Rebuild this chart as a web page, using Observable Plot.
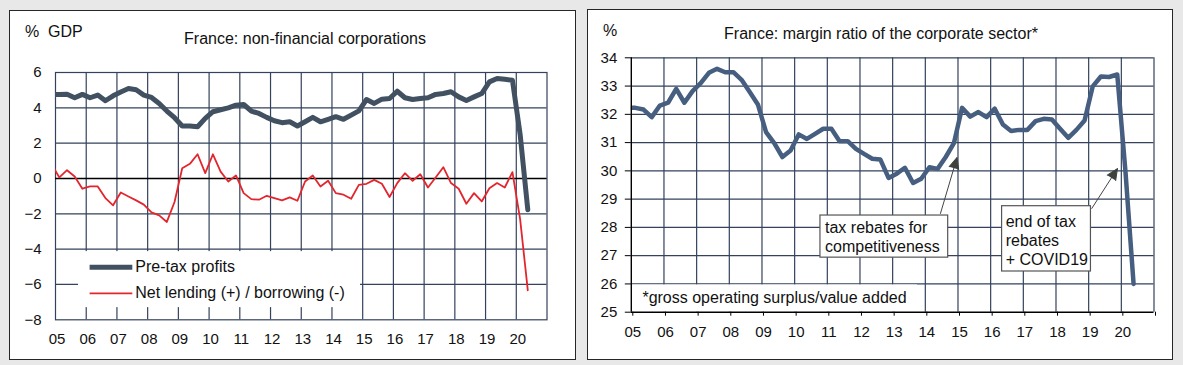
<!DOCTYPE html>
<html>
<head>
<meta charset="utf-8">
<script src="https://cdn.jsdelivr.net/npm/d3@7"></script>
<script src="https://cdn.jsdelivr.net/npm/@observablehq/plot@0.6"></script>
<style>
  html, body { margin: 0; padding: 0; }
  body { width: 1183px; height: 365px; position: relative; overflow: hidden; background: #e8e8e8;
         font-family: "Liberation Sans", Arial, sans-serif; color: #111; }
  .panel { position: absolute; background: #fff; border: 1.5px solid #262626; box-sizing: border-box; }
  .lbl { position: absolute; font-size: 16px; line-height: 18px; white-space: nowrap; color: #111; }
  .chart { position: absolute; top: 0; }
  .chart svg { max-width: none !important; }
</style>
</head>
<body>
<div class="panel" style="left:9px;top:10px;width:567px;height:350px"></div>
<div class="panel" style="left:587px;top:9px;width:586px;height:351px"></div>
<div class="lbl" style="left:25px;top:23px">%&nbsp; GDP</div>
<div class="lbl" style="left:305px;top:30px;transform:translateX(-50%)">France: non-financial corporations</div>
<div class="lbl" style="left:603px;top:22px">%</div>
<div class="lbl" style="left:881px;top:25px;transform:translateX(-50%)">France: margin ratio of the corporate sector*</div>
<div id="left" class="chart" style="left:0px;width:580px;height:365px"></div>
<div id="right" class="chart" style="left:590px;width:593px;height:365px"></div>
<script>
// ---------- DATA (quarterly, 2004Q4 .. 2020Q2) ----------
const firstYear = 2004, firstQuarter = 4;
const quarters = [];
for (let y = firstYear, q = firstQuarter; !(y === 2020 && q === 3); ) {
  quarters.push(y + "Q" + q);
  q++; if (q > 4) { q = 1; y++; }
}

// Pre-tax profits, % GDP
const pretaxProfits = [4.75,
  4.76, 4.77, 4.57, 4.76, 4.57, 4.72, 4.40, 4.68, 4.90, 5.09,
  5.02, 4.72, 4.59, 4.25, 3.82, 3.44, 2.97, 2.97, 2.93, 3.40,
  3.78, 3.89, 4.00, 4.15, 4.19, 3.82, 3.68, 3.46, 3.27, 3.16,
  3.21, 2.97, 3.21, 3.46, 3.21, 3.35, 3.50, 3.35, 3.59, 3.83,
  4.47, 4.25, 4.49, 4.53, 4.94, 4.57, 4.47, 4.53, 4.57, 4.76,
  4.81, 4.91, 4.62, 4.42, 4.62, 4.81, 5.47, 5.66, 5.62, 5.56,
  2.50, -1.77];

// Net lending (+) / borrowing (-), % GDP
const netLending = [0.80,
  0.06, 0.47, 0.11, -0.58, -0.45, -0.45, -1.11, -1.52, -0.79, -1.02,
  -1.24, -1.48, -1.92, -2.09, -2.46, -1.33, 0.58, 0.83, 1.37, 0.30,
  1.37, 0.39, -0.17, 0.17, -0.83, -1.17, -1.20, -0.98, -1.11, -1.24,
  -1.07, -1.26, -0.17, 0.17, -0.45, -0.13, -0.83, -0.92, -1.15, -0.36,
  -0.30, -0.08, -0.30, -1.05, -0.26, 0.30, -0.13, 0.24, -0.51, 0.06,
  0.64, -0.26, -0.58, -1.43, -0.83, -1.30, -0.55, -0.26, -0.51, 0.36,
  -2.30, -6.33];

// Margin ratio of the corporate sector, %
const marginRatio = [32.23,
  32.23, 32.17, 31.90, 32.31, 32.41, 32.90, 32.41, 32.82, 33.10, 33.47,
  33.61, 33.49, 33.49, 33.22, 32.79, 32.35, 31.37, 30.98, 30.49, 30.72,
  31.29, 31.13, 31.31, 31.49, 31.49, 31.05, 31.05, 30.78, 30.60, 30.43,
  30.40, 29.75, 29.90, 30.11, 29.57, 29.72, 30.13, 30.07, 30.49, 30.98,
  32.23, 31.92, 32.08, 31.90, 32.20, 31.64, 31.41, 31.45, 31.45, 31.76,
  31.84, 31.82, 31.49, 31.17, 31.45, 31.78, 32.99, 33.34, 33.32, 33.41,
  30.00, 26.00];

const yearTicks = [2005, 2006, 2007, 2008, 2009, 2010, 2011, 2012, 2013, 2014, 2015, 2016, 2017, 2018, 2019, 2020];
const yearLabels = ["05","06","07","08","09","10","11","12","13","14","15","16","17","18","19","20"];
const leftYTicks = [-8, -6, -4, -2, 0, 2, 4, 6];
const rightYTicks = [25, 26, 27, 28, 29, 30, 31, 32, 33, 34];

const leftTitle = "France: non-financial corporations";
const rightTitle = "France: margin ratio of the corporate sector*";
const seriesNames = ["Pre-tax profits", "Net lending (+) / borrowing (-)"];
const footnote = "*gross operating surplus/value added";
const notes = [
  {text: "tax rebates for\ncompetitiveness", from: [2014.46, 28.48], to: [2014.97, 30.47]},
  {text: "end of tax\nrebates\n+ COVID19", from: [2019.09, 28.66], to: [2019.88, 30.08]}
];

// ---------- styling ----------
const GRID = "#34425d";
const DARK = "#415161";
const RED = "#e3262e";
const BLUE = "#465e80";
const FONT = "'Liberation Sans', Arial, sans-serif";

// mid-quarter time
const tOf = q => +q.slice(0, 4) + (+q.slice(5) - 1) / 4 + 0.125;
const rows = quarters.map((q, i) => ({
  t: tOf(q), profits: pretaxProfits[i], lending: netLending[i], margin: marginRatio[i]
}));
const lbl = d => yearLabels[yearTicks.indexOf(d)] ?? "";

// ---------- LEFT ----------
const legendBox = [{x1: 2005.75, x2: 2014.93, y1: -7.31, y2: -4.14}];
const legendItems = [
  {x1: 2006.11, x2: 2007.50, y: -5.02, name: seriesNames[0], color: DARK, w: 5},
  {x1: 2006.11, x2: 2007.50, y: -6.50, name: seriesNames[1], color: RED, w: 1.8}
];

const left = Plot.plot({
  width: 580, height: 365,
  marginLeft: 55, marginRight: 33.5, marginTop: 72, marginBottom: 45.7,
  style: {fontFamily: FONT, fontSize: "15px", color: "#111", background: "transparent", overflow: "visible"},
  x: {domain: [2005, 2021]},
  y: {domain: [-8, 6]},
  marks: [
    Plot.gridX(yearTicks.slice(1), {stroke: GRID, strokeOpacity: 1, strokeWidth: 1.2}),
    Plot.gridY(leftYTicks.slice(1, -1), {stroke: GRID, strokeOpacity: 1, strokeWidth: 1.2}),
    Plot.frame({stroke: GRID, strokeWidth: 1.2}),
    Plot.ruleY([0], {stroke: "#000", strokeWidth: 1.4}),
    Plot.rect(legendBox, {x1: "x1", x2: "x2", y1: "y1", y2: "y2", fill: "#fff"}),
    Plot.line(rows, {x: "t", y: "lending", stroke: RED, strokeWidth: 1.8, clip: true}),
    Plot.line(rows, {x: "t", y: "profits", stroke: DARK, strokeWidth: 5, clip: true}),
    Plot.link(legendItems, {x1: "x1", x2: "x2", y1: "y", y2: "y", stroke: "color", strokeWidth: "w"}),
    Plot.text(legendItems, {x: "x2", y: "y", text: "name", textAnchor: "start", dx: 3, fontSize: 16, fill: "#111"}),
    Plot.axisY(leftYTicks, {tickSize: 0, tickPadding: 14, label: null, fontSize: 15}),
    Plot.axisX(yearTicks, {tickSize: 0, tickPadding: 14, tickFormat: lbl, label: null, fontSize: 15, dx: 1.5})
  ]
});
document.getElementById("left").append(left);

// ---------- RIGHT ----------
const noteBoxes = [
  {x1: 2010.79, x2: 2014.70, y1: 26.93, y2: 28.42, tx: 2010.93, ty: 27.67, text: notes[0].text},
  {x1: 2016.35, x2: 2019.07, y1: 26.44, y2: 28.75, tx: 2016.46, ty: 27.56, text: notes[1].text}
];
const arrows = notes.map(n => {
  const dx = n.to[0] - n.from[0], dy = n.to[1] - n.from[1];
  return {x1: n.from[0], y1: n.from[1], x2: n.to[0], y2: n.to[1]};
});
const footBox = [{x1: 2005, x2: 2013.76, y1: 25, y2: 26, tx: 2005.34, ty: 25.5, text: footnote}];

const right = Plot.plot({
  width: 593, height: 365,
  marginLeft: 40.8, marginRight: 29.5, marginTop: 57.3, marginBottom: 53.3,
  style: {fontFamily: FONT, fontSize: "15px", color: "#111", background: "transparent", overflow: "visible"},
  x: {domain: [2005, 2021]},
  y: {domain: [25, 34]},
  marks: [
    Plot.gridX([...yearTicks.slice(1), 2021], {stroke: GRID, strokeOpacity: 1, strokeWidth: 1.2}),
    Plot.gridY(rightYTicks.slice(1), {stroke: GRID, strokeOpacity: 1, strokeWidth: 1.2}),
    Plot.rect(footBox, {x1: "x1", x2: "x2", y1: "y1", y2: "y2", fill: "#fff", insetTop: 1}),
    Plot.text(footBox, {x: "tx", y: "ty", text: "text", textAnchor: "start", fontSize: 16, fill: "#111"}),
    Plot.rect(noteBoxes, {x1: "x1", x2: "x2", y1: "y1", y2: "y2", fill: "#fff", stroke: "#555", strokeWidth: 1.2}),
    Plot.text(noteBoxes, {x: "tx", y: "ty", text: "text", textAnchor: "start", lineAnchor: "middle", lineHeight: 1.19, fontSize: 16, fill: "#111"}),
    Plot.line(rows, {x: "t", y: "margin", stroke: BLUE, strokeWidth: 4.5, clip: true}),
    Plot.link(arrows, {x1: "x1", y1: "y1", x2: "x2", y2: "y2", stroke: "#444", strokeWidth: 1}),
    Plot.vector(arrows, {
      x: "x2", y: "y2", anchor: "end", shape: "spike", length: 11, r: 5,
      rotate: d => {
        // angle computed in screen space below via scale factors
        const sx = 32.67, sy = 28.27;
        const dx = (d.x2 - d.x1) * sx, dy = (d.y2 - d.y1) * sy;
        return Math.atan2(dx, dy) * 180 / Math.PI;
      },
      fill: "#3d423d", stroke: "#3d423d", strokeWidth: 1
    }),
    Plot.ruleX([2005], {stroke: "#000", strokeWidth: 1.4}),
    Plot.ruleY([25], {stroke: "#000", strokeWidth: 1.4}),
    Plot.axisY(rightYTicks, {tickSize: 6, tickPadding: 8, label: null, fontSize: 15, stroke: "#000"}),
    Plot.axisX([...yearTicks, 2021], {tickSize: 4, tickPadding: 10, tickFormat: lbl, label: null, fontSize: 15, dx: 1.5, stroke: "#000"})
  ]
});
document.getElementById("right").append(right);
</script>
</body>
</html>
